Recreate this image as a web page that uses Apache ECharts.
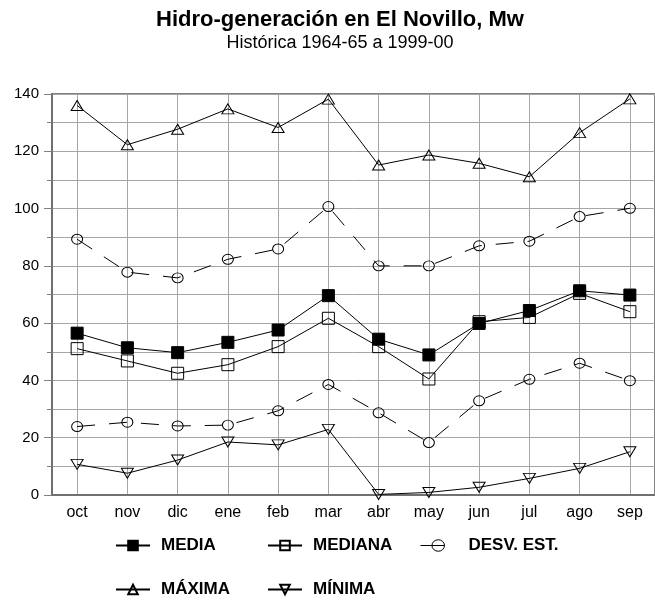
<!DOCTYPE html>
<html>
<head>
<meta charset="utf-8">
<script src="https://cdn.jsdelivr.net/npm/echarts@6/dist/echarts.min.js"></script>
<style>
  html, body { margin: 0; padding: 0; background: #fff; }
  #chart { width: 655px; height: 603px; }
</style>
</head>
<body>
<div id="chart"></div>
<script>
// meses del año hidrológico
const meses = ['oct', 'nov', 'dic', 'ene', 'feb', 'mar', 'abr', 'may', 'jun', 'jul', 'ago', 'sep']
// valores en Mw
const media = [56.5, 51.4, 49.7, 53.3, 57.6, 69.6, 54.4, 48.9, 59.9, 64.4, 71.3, 69.8]
const mediana = [51.1, 46.8, 42.5, 45.5, 51.8, 61.7, 51.8, 40.5, 60.5, 62.0, 70.4, 64.0]
const desvSup = [89.3, 77.8, 75.8, 82.3, 85.9, 100.7, 80.0, 80.0, 87.0, 88.6, 97.2, 100.1]
const desvInf = [23.9, 25.4, 24.1, 24.4, 29.4, 38.6, 28.7, 18.3, 32.9, 40.4, 46.0, 39.9]
const maxima = [136.0, 122.3, 127.7, 134.8, 128.3, 138.2, 115.2, 118.7, 115.8, 111.1, 126.5, 138.3]
const minima = [10.7, 7.6, 12.2, 18.5, 17.5, 22.9, 0.2, 0.9, 2.7, 5.8, 9.3, 15.1]

const font = 'Liberation Sans, Arial, sans-serif'
const hueco = 'rgba(0,0,0,0)'

const myChart = echarts.init(document.getElementById('chart'))

// una leyenda por elemento para fijar las columnas
function leyenda (item, left, top, width, gap) {
    return {
        data: [item],
        left: left,
        top: top,
        padding: 0,
        itemWidth: width || 34,
        itemHeight: 12,
        selectedMode: false,
        textStyle: {
            fontFamily: font,
            fontSize: 17,
            fontWeight: 'bold',
            color: '#000',
            padding: [0, 0, 0, gap || 6]
        }
    }
}

function serie (name, data, symbol, size, fill, extra) {
    return Object.assign({
        name: name,
        type: 'line',
        data: data,
        symbol: symbol,
        symbolSize: size,
        showAllSymbol: true,
        lineStyle: { color: '#000', width: 1 },
        itemStyle: { color: fill, borderColor: '#000', borderWidth: 1 },
        emphasis: { disabled: true },
        z: 3
    }, extra || {})
}

// icono de la desviación: trazo corto y círculo
const iconoDesv = {
    name: 'DESV. EST.',
    icon: 'path://M0,6 L11,6 M11,6 A6,5.5 0 1,0 23,6 A6,5.5 0 1,0 11,6 M11,6 L23,6',
    itemStyle: { color: hueco, borderColor: '#000', borderWidth: 1 }
}

const options = {
    animation: false,
    backgroundColor: '#fff',
    title: [
        {
            text: 'Hidro-generación en El Novillo, Mw',
            left: 340,
            textAlign: 'center',
            top: 9,
            padding: 0,
            textStyle: { fontFamily: font, fontSize: 22, fontWeight: 'bold', color: '#000' }
        },
        {
            text: 'Histórica 1964-65 a 1999-00',
            left: 340,
            textAlign: 'center',
            top: 34,
            padding: 0,
            textStyle: { fontFamily: font, fontSize: 18, fontWeight: 'normal', color: '#000' }
        }
    ],
    grid: {
        left: 52,
        top: 94,
        right: -9,
        bottom: 108,
        show: true,
        borderColor: '#808080',
        borderWidth: 2
    },
    legend: [
        leyenda('MEDIA', 115, 537),
        leyenda('MEDIANA', 267, 537),
        leyenda(iconoDesv, 420, 537, 24, 19),
        leyenda('MÁXIMA', 115, 581),
        leyenda('MÍNIMA', 267, 581)
    ],
    xAxis: {
        type: 'category',
        data: meses,
        boundaryGap: true,
        axisLine: { lineStyle: { color: '#707070', width: 2 } },
        axisTick: { alignWithLabel: true, length: 7, lineStyle: { color: '#808080' } },
        axisLabel: { fontFamily: font, fontSize: 16, color: '#000', margin: 10 },
        splitLine: { show: true, alignWithLabel: true, lineStyle: { color: '#a6a6a6', width: 1 } }
    },
    yAxis: {
        type: 'value',
        min: 0,
        max: 140,
        interval: 20,
        axisLine: { show: true, lineStyle: { color: '#707070', width: 2 } },
        axisTick: { show: true, length: 8, lineStyle: { color: '#808080' } },
        minorTick: { show: true, splitNumber: 2, length: 5, lineStyle: { color: '#808080' } },
        axisLabel: { fontFamily: font, fontSize: 15, color: '#000', margin: 13 },
        splitLine: { show: true, lineStyle: { color: '#a6a6a6', width: 1 } },
        minorSplitLine: { show: true, lineStyle: { color: '#a6a6a6', width: 1 } }
    },
    series: [
        serie('MEDIA', media, 'rect', 12, '#000'),
        serie('MEDIANA', mediana, 'rect', 12, hueco),
        serie('DESV. EST.', desvSup, 'circle', [11, 10], hueco, {
            lineStyle: { color: '#000', width: 1, type: [18, 14] }
        }),
        serie('DESV. EST.', desvInf, 'circle', [11, 10], hueco, {
            lineStyle: { color: '#000', width: 1, type: [18, 14] }
        }),
        serie('MÁXIMA', maxima, 'triangle', [12, 10], hueco),
        serie('MÍNIMA', minima, 'triangle', [12, 10], hueco, { symbolRotate: 180 })
    ]
}

myChart.setOption(options)
</script>
</body>
</html>
